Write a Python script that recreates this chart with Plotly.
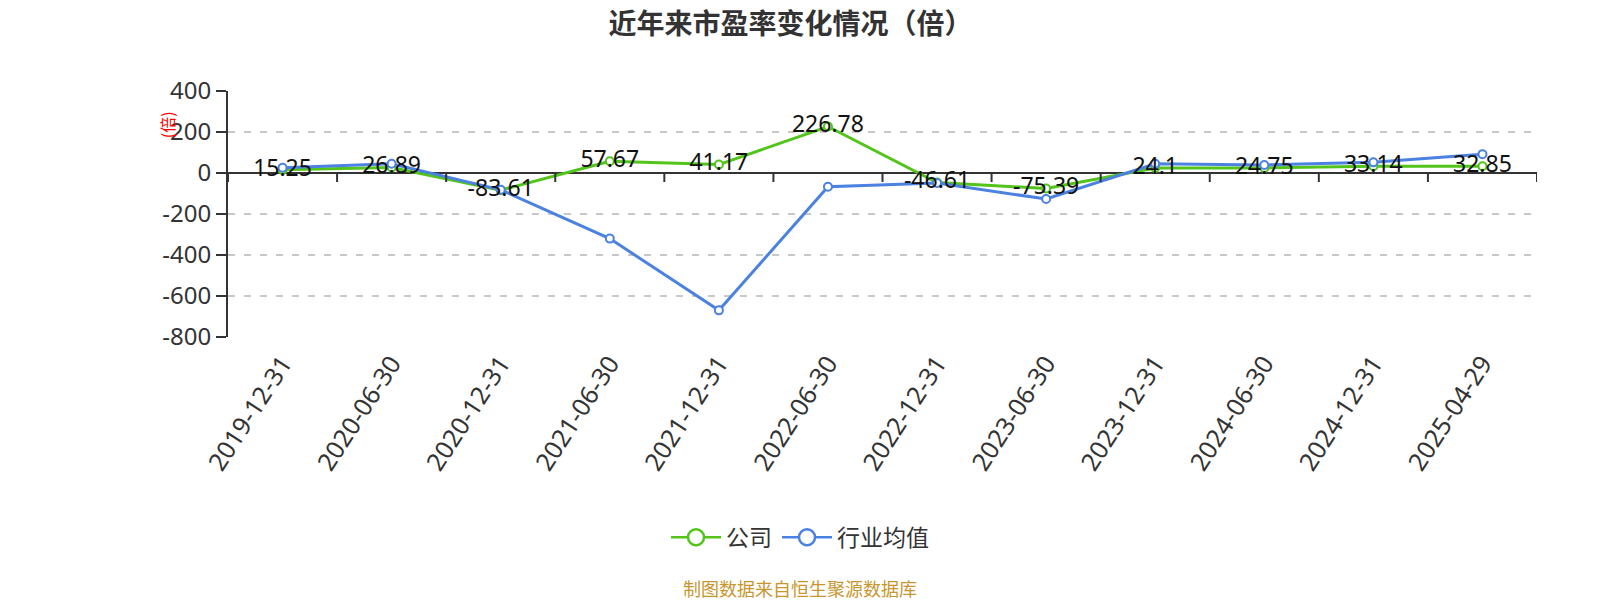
import plotly.graph_objects as go

categories = ["2019-12-31", "2020-06-30", "2020-12-31", "2021-06-30", "2021-12-31", "2022-06-30",
              "2022-12-31", "2023-06-30", "2023-12-31", "2024-06-30", "2024-12-31", "2025-04-29"]
company = [15.25, 26.89, -83.61, 57.67, 41.17, 226.78, -46.61, -75.39, 24.1, 24.75, 33.14, 32.85]
industry = [26, 45, -82, -320, -670, -67, -49, -127, 45, 39, 52, 92]
y_ticks = [400, 200, 0, -200, -400, -600, -800]

GREEN = "#52c41a"
BLUE = "#4b82e1"
FONT = "Noto Sans, Noto Sans CJK SC, sans-serif"
CJK = "Noto Sans CJK SC, sans-serif"

fig = go.Figure()
fig.add_trace(go.Scatter(
    x=categories, y=company, name="公司", mode="lines+markers", showlegend=False,
    line=dict(color=GREEN, width=3),
    marker=dict(symbol="circle", size=8, color="white", line=dict(color=GREEN, width=2)),
))
fig.add_trace(go.Scatter(
    x=categories, y=industry, name="行业均值", mode="lines+markers", showlegend=False,
    line=dict(color=BLUE, width=3),
    marker=dict(symbol="circle", size=8, color="white", line=dict(color=BLUE, width=2)),
))
fig.add_trace(go.Scatter(
    x=categories, y=company, mode="text", showlegend=False, hoverinfo="skip",
    text=[str(v) for v in company], textposition="middle center",
    textfont=dict(family=FONT, size=23, color="#111111"),
))
# legend entries (larger symbols like the reference)
for name, col in (("公司", GREEN), ("行业均值", BLUE)):
    fig.add_trace(go.Scatter(
        x=[None], y=[None], name=name, mode="lines+markers",
        line=dict(color=col, width=2.5),
        marker=dict(symbol="circle", size=16, color="white", line=dict(color=col, width=2.5)),
    ))

# tick marks along the zero axis line at category boundaries
shapes = []
for i in range(len(categories) + 1):
    shapes.append(dict(type="line", xref="x", yref="y", x0=i - 0.5, x1=i - 0.5,
                       ysizemode="pixel", yanchor=0, y0=0, y1=-9,
                       line=dict(color="#333333", width=2)))

fig.update_layout(
    width=1600, height=600,
    margin=dict(l=228, r=63, t=91, b=263),
    paper_bgcolor="white", plot_bgcolor="white",
    title=dict(text="<b>近年来市盈率变化情况（倍）</b>", x=0.494, xref="container", xanchor="center",
               y=0.96, yref="container", yanchor="middle",
               font=dict(family=CJK, size=28, color="#333333")),
    showlegend=True,
    legend=dict(orientation="h", x=0.437, xanchor="center", y=-0.814, yanchor="middle",
                font=dict(family=CJK, size=23, color="#333333"), itemwidth=50,
                bgcolor="rgba(0,0,0,0)"),
    shapes=shapes,
    annotations=[
        dict(text="(倍)", xref="paper", yref="paper", x=-0.0466, y=0.861, showarrow=False,
             textangle=-90, font=dict(family=CJK, size=16, color="#ff0000"),
             xanchor="center", yanchor="middle"),
        dict(text="制图数据来自恒生聚源数据库", xref="paper", yref="paper", x=0.437, y=-1.02,
             showarrow=False, font=dict(family=CJK, size=18, color="#c8962e"),
             xanchor="center", yanchor="middle"),
    ],
)
fig.update_xaxes(
    type="category", range=[-0.5, 11.5], showgrid=False, showline=False, zeroline=False,
    ticks="", tickangle=-57, ticklabelstandoff=6,
    tickfont=dict(family=FONT, size=25, color="#333333"),
)
fig.update_yaxes(
    range=[-800, 400], tickvals=y_ticks, ticktext=[str(v) for v in y_ticks],
    showgrid=True, gridcolor="#c8c8c8", gridwidth=1.5, griddash="7px,9px",
    showline=True, linecolor="#333333", linewidth=2,
    ticks="outside", ticklen=10, tickwidth=2, tickcolor="#333333",
    zeroline=True, zerolinecolor="#333333", zerolinewidth=2,
    tickfont=dict(family=FONT, size=24, color="#333333"),
)
fig.write_html("out.html", config={"displayModeBar": False},
               post_script="document.body.style.margin='0px';")
